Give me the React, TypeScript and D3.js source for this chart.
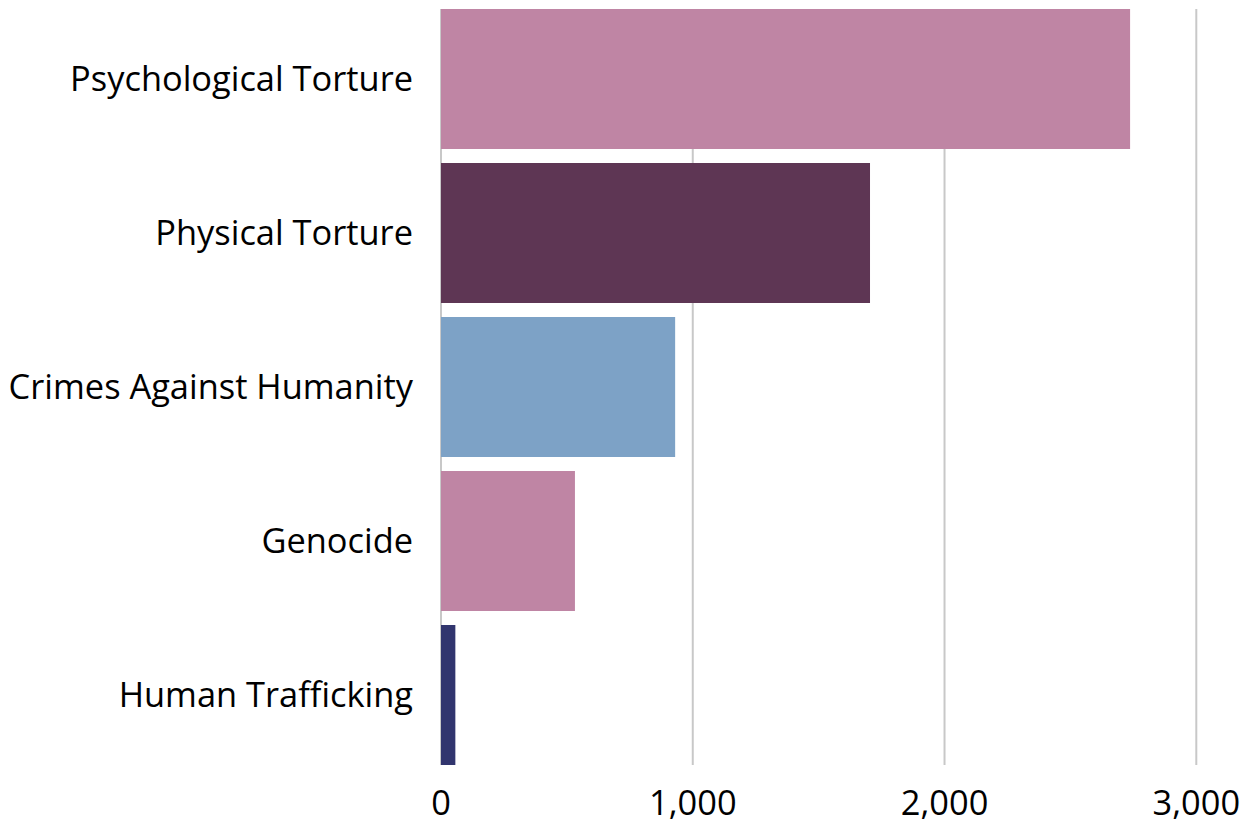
import React from "react";
import * as d3 from "d3";

const categories = ["Psychological Torture", "Physical Torture", "Crimes Against Humanity", "Genocide", "Human Trafficking"];
const values = [2737, 1704, 930, 532, 57];
const colors = ["#BF85A4", "#5E3654", "#7DA2C6", "#BF85A4", "#31356E"];
const ticks = [0, 1000, 2000, 3000];

export default function App() {
  const W = 1252, H = 823;
  const x = d3.scaleLinear().domain([0, 3000]).range([441, 1196.3]);
  const y = d3.scaleBand<string>().domain(categories).range([9, 765]).paddingInner(14 / 154).paddingOuter(0);
  const fmt = d3.format(",");
  const font = "'Open Sans', sans-serif";
  return (
    <svg width={W} height={H} style={{ position: "absolute", left: 0, top: 0, background: "#fff" }}>
      {ticks.map((t) => (
        <line key={t} x1={x(t)} x2={x(t)} y1={9} y2={765} stroke="#C8C8C8" strokeWidth={2} />
      ))}
      {categories.map((c, i) => (
        <rect key={c} x={x(0)} y={y(c)} width={x(values[i]) - x(0)} height={y.bandwidth()} fill={colors[i]} />
      ))}
      {categories.map((c) => (
        <text key={c} x={413} y={(y(c) as number) + y.bandwidth() / 2} dy="0.35em" textAnchor="end" fontFamily={font} fontSize={34.4} fill="#000">
          {c}
        </text>
      ))}
      {ticks.map((t) => (
        <text key={t} x={x(t)} y={815} textAnchor="middle" fontFamily={font} fontSize={34.4} fill="#000">
          {fmt(t)}
        </text>
      ))}
    </svg>
  );
}
